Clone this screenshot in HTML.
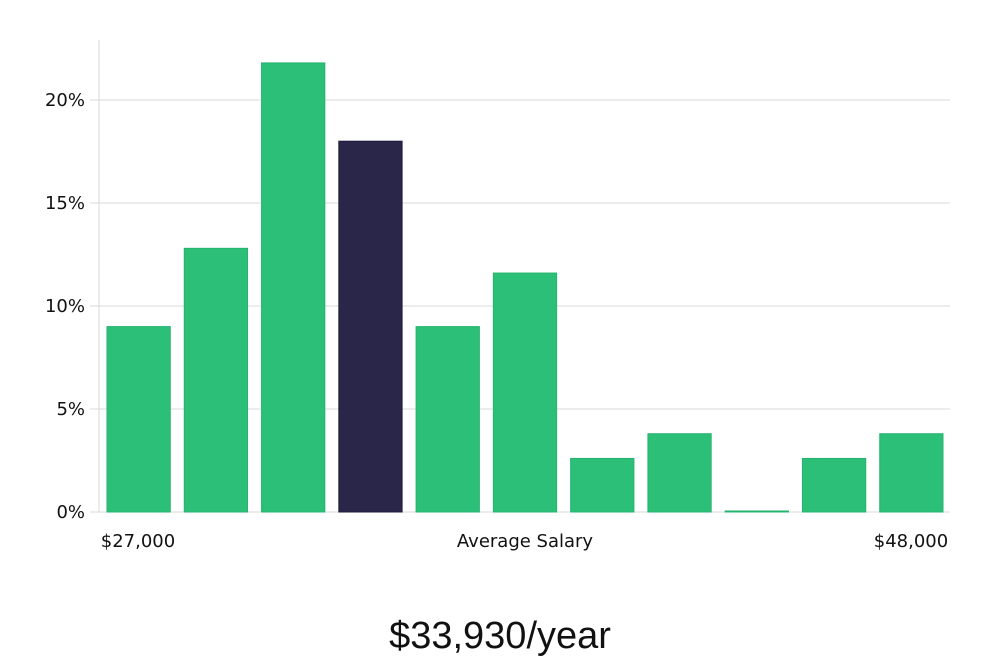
<!DOCTYPE html>
<html><head><meta charset="utf-8"><style>
body{margin:0;background:#fff;width:1000px;height:660px;overflow:hidden}
svg{display:block}
text{font-family:"DejaVu Sans","Liberation Sans",sans-serif}
</style></head><body>
<svg id="chart" width="1000" height="660">
<g id="grid"></g>
<g id="bars"></g>
<g id="yaxis"></g>
<text x="138" y="547" text-anchor="middle" font-size="18" fill="#111">$27,000</text>
<text x="525" y="547" text-anchor="middle" font-size="18" fill="#111">Average Salary</text>
<text x="911" y="547" text-anchor="middle" font-size="18" fill="#111">$48,000</text>
<text x="500" y="648" text-anchor="middle" font-size="38" fill="#111" style="font-family:'Liberation Sans',sans-serif">$33,930/year</text>
</svg>
<script>
const categories = ["b1","b2","b3","b4","b5","b6","b7","b8","b9","b10","b11"];
const values = [9.0, 12.8, 21.8, 18.0, 9.0, 11.6, 2.6, 3.8, 0.05, 2.6, 3.8];
const highlightIndex = 3;
const yTicks = [0, 5, 10, 15, 20];
const yTickLabels = ["0%","5%","10%","15%","20%"];

const NS = "http://www.w3.org/2000/svg";
const x0 = 100, x1 = 950, yBase = 512, yTop = 100, yMaxVal = 20;
const slot = (x1 - x0) / categories.length;
const yScale = v => yBase - (v / yMaxVal) * (yBase - yTop);
const xScale = i => x0 + i * slot;

const grid = document.getElementById('grid');
const yaxis = document.getElementById('yaxis');
const bars = document.getElementById('bars');

yTicks.forEach((t, i) => {
  const y = yScale(t);
  const l = document.createElementNS(NS, 'line');
  
  
  l.setAttribute('x1', 90); l.setAttribute('x2', x1);
  l.setAttribute('y1', y); l.setAttribute('y2', y);
  l.setAttribute('stroke', '#d9d9d9'); l.setAttribute('stroke-width', 1);
  grid.appendChild(l);
  const tx = document.createElementNS(NS, 'text');
  
  
  tx.setAttribute('x', 85); tx.setAttribute('y', y + 6);
  tx.setAttribute('text-anchor', 'end'); tx.setAttribute('font-size', 18);
  tx.setAttribute('fill', '#111');
  tx.textContent = yTickLabels[i];
  yaxis.appendChild(tx);
});
const ax = document.createElementNS(NS, 'line');


ax.setAttribute('x1', 99); ax.setAttribute('x2', 99);
ax.setAttribute('y1', 40); ax.setAttribute('y2', yBase);
ax.setAttribute('stroke', '#d9d9d9');
yaxis.appendChild(ax);

values.forEach((v, i) => {
  const r = document.createElementNS(NS, 'rect');
  
  
  const y = yScale(v);
  r.setAttribute('x', xScale(i) + 7);
  r.setAttribute('width', slot - 14);
  r.setAttribute('y', y);
  r.setAttribute('height', Math.max(1, yBase - y));
  const hl = i === highlightIndex;
  r.setAttribute('fill', hl ? '#29264a' : '#2bbf78');
  r.setAttribute('stroke', hl ? '#1e1b3d' : '#25b46f');
  r.setAttribute('stroke-width', 1);
  bars.appendChild(r);
});
</script>
</body></html>
